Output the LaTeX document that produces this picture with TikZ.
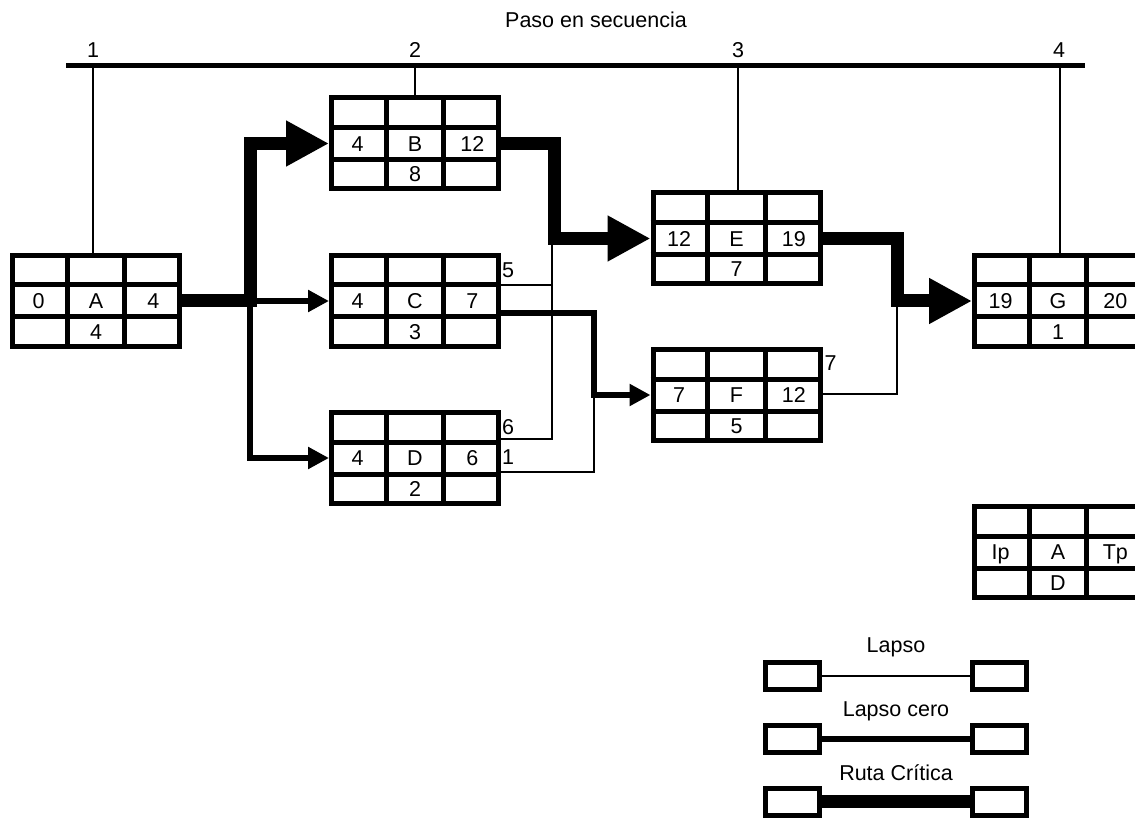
\documentclass[tikz,border=0pt]{standalone}
\usepackage{fontspec}
\setmainfont{Liberation Sans}
\usetikzlibrary{arrows.meta,calc}

% One activity box: 3x3 grid with start, name, end and duration
\newcommand\pertbox[6]{%
  \node[actbox] (#1) at (#2) {};
  \foreach \f in {1/3,2/3}{
    \draw[gridline] ($(#1.north west)!\f!(#1.north east)$) -- ($(#1.south west)!\f!(#1.south east)$);
    \draw[gridline] ($(#1.north west)!\f!(#1.south west)$) -- ($(#1.north east)!\f!(#1.south east)$);
  }
  \node (#1-ip) at ($(#1.west)!1/6!(#1.east)$) {#3};
  \node (#1-act) at (#1.center) {#4};
  \node (#1-tp) at ($(#1.west)!5/6!(#1.east)$) {#5};
  \node (#1-dur) at ($(#1.center)+(0,30.3)$) {#6};
}

\begin{document}
\begin{tikzpicture}[x=1pt,y=-1pt,
  every node/.style={font=\fontsize{21.5}{24}\selectfont, inner sep=0pt,
                     text height=15.4pt, text depth=0pt},
  actbox/.style={draw, rectangle, line width=5pt, minimum width=167pt, minimum height=91pt},
  gridline/.style={line width=5pt},
  legbox/.style={draw, rectangle, line width=5pt, minimum width=54pt, minimum height=27pt},
  axisline/.style={line width=5pt},
  slack/.style={line width=1.1pt},
  zero/.style={line width=6pt},
  crit/.style={line width=13pt},
  bigtip/.style={-{Triangle[length=43pt,width=43pt]}},
  smalltip/.style={-{Triangle[length=21pt,width=21pt]}},
  slacklbl/.style={anchor=west},
]
\useasboundingbox (0,0) rectangle (1135,818);
\fill[white] (0,0) rectangle (1135,818);
\clip (0,0) rectangle (1135,818);

% sequence axis
\node (title) at (596,19.5) {Paso en secuencia};
\coordinate (axL) at (66,66);
\coordinate (axR) at (1085,66);
\draw[axisline] (axL) -- (axR);
\coordinate (s1) at (93,66);
\coordinate (s2) at (415,66);
\coordinate (s3) at (738,66);
\coordinate (s4) at (1060,66);
\node (n1) at (93,50) {1};
\node (n2) at (415,50) {2};
\node (n3) at (738,50) {3};
\node (n4) at (1059,50) {4};

% activities
\pertbox{A}{96,301}{0}{A}{4}{4}
\pertbox{B}{415,143.5}{4}{B}{12}{8}
\pertbox{C}{415,301}{4}{C}{7}{3}
\pertbox{D}{415,458}{4}{D}{6}{2}
\pertbox{E}{736.5,238.5}{12}{E}{19}{7}
\pertbox{F}{736.5,395}{7}{F}{12}{5}
\pertbox{G}{1058,301}{19}{G}{20}{1}
\pertbox{K}{1058,552}{Ip}{A}{Tp}{D}

% ties from the axis to each step
\draw[slack] (s1) -- (s1 |- A.north);
\draw[slack] (s2) -- (s2 |- B.north);
\draw[slack] (s3) -- (s3 |- E.north);
\draw[slack] (s4) -- (s4 |- G.north);

% bend points
\coordinate (fork) at (250,301);
\coordinate (bendBE) at (554,238.5);
\coordinate (jE) at (552,238.5);
\coordinate (bendCF) at (594,395);
\coordinate (bendEG) at (897,301);

% slack links
\draw[slack] ($(C.east)+(0,-16)$) -| (jE);
\draw[slack] ($(D.east)+(0,-19)$) -| (jE);
\draw[slack] ($(D.east)+(0,14)$) -| (bendCF);
\draw[slack] ($(F.east)+(0,-1)$) -| (bendEG);

% zero-slack links
\draw[zero,smalltip] (fork) -- (C.west);
\draw[zero,smalltip] (fork) |- (D.west);
\draw[zero,smalltip] ($(C.east)+(0,12)$) -| (bendCF) -- (F.west);

% critical path
\draw[crit,bigtip] (A.east) -- (fork) |- (B.west);
\draw[crit,bigtip] (B.east) -| (bendBE) -- (E.west);
\draw[crit,bigtip] (E.east) -| (bendEG) -- (G.west);

% slack values
\node[slacklbl] (sl5) at ($(C.north east)+(1,17)$) {5};
\node[slacklbl] (sl6) at ($(D.north east)+(1,17)$) {6};
\node[slacklbl] (sl1) at ($(D.north east)+(1,47)$) {1};
\node[slacklbl] (sl7) at ($(F.north east)+(2,16)$) {7};

% legend
\node (lg1) at (896,645) {Lapso};
\node[legbox] (l1a) at (792.5,676) {};
\node[legbox] (l1b) at (999,676) {};
\draw[slack] (l1a.east) -- (l1b.west);
\node (lg2) at (896,709) {Lapso cero};
\node[legbox] (l2a) at (792.5,739) {};
\node[legbox] (l2b) at (999,739) {};
\draw[zero] (l2a.east) -- (l2b.west);
\node (lg3) at (896,773) {Ruta Crítica};
\node[legbox] (l3a) at (792.5,801.5) {};
\node[legbox] (l3b) at (999,801.5) {};
\draw[crit] (l3a.east) -- (l3b.west);
\end{tikzpicture}
\end{document}
